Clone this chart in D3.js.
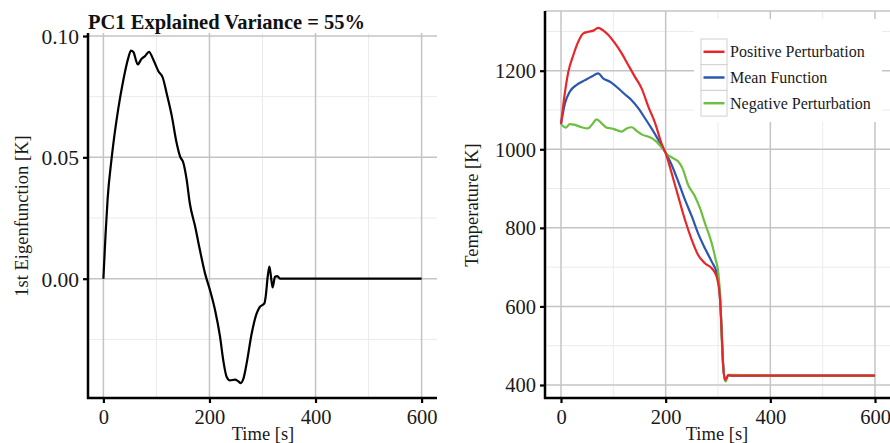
<!DOCTYPE html>
<html>
<head>
<script src="https://d3js.org/d3.v7.min.js"></script>
<style>
  body { margin: 0; background: #fff; }
  svg { display: block; font-family: "Liberation Serif", "DejaVu Serif", serif; }
</style>
</head>
<body>
<svg width="890" height="443"></svg>
<script>
// --- left panel: first eigenfunction (time [s], value [K])
const eigenTime = [0, 4, 8, 15.7, 28, 37.7, 47, 52, 56.5, 64.7, 72, 78.5, 86, 94, 103.7, 112, 119, 129, 138, 144.5, 151, 157, 163, 173, 182, 191.6, 201, 210.5, 220, 226, 232.5, 238.7, 248, 254.5, 259, 264, 270, 279.6, 289, 295, 303.5, 306, 309.8, 313, 316, 319, 323.6, 328, 333, 345.6, 400, 500, 600];
const eigenValue = [0, 0.018, 0.033, 0.050, 0.070, 0.082, 0.091, 0.094, 0.0934, 0.0883, 0.0906, 0.0917, 0.0935, 0.0903, 0.0855, 0.0828, 0.0766, 0.067, 0.056, 0.0504, 0.0476, 0.0408, 0.031, 0.0215, 0.0118, 0.0022, -0.0047, -0.0129, -0.024, -0.0336, -0.0405, -0.0419, -0.0416, -0.0423, -0.043, -0.0412, -0.035, -0.0226, -0.0143, -0.0116, -0.0102, -0.0074, 0.0008, 0.005, 0.0008, -0.0036, 0.0008, 0.0011, 0, 0, 0, 0, 0];

// --- right panel: temperature curves (time [s], temperature [K])
const posTime = [0, 6.4, 14, 23.6, 33, 42.7, 52, 61.8, 71, 81, 90.5, 103, 116, 128.7, 141, 154, 167, 180, 192, 200, 211.5, 224, 237, 250, 262, 275, 288, 294, 299, 304, 307, 310, 313, 316, 320, 325, 400, 500, 600];
const posTemp = [1064, 1134, 1197, 1240, 1274, 1295, 1299, 1302, 1309, 1302, 1291, 1270, 1244, 1214, 1185, 1155, 1108, 1066, 1015, 990, 939, 880, 820, 769, 731, 710, 697, 686, 668, 617, 532, 447, 413, 417, 426, 424, 424, 424, 424];

const meanTime = [0, 7.6, 17, 30, 46, 58.6, 71, 81, 93.6, 109.6, 122, 135, 148, 160.5, 173, 186, 198.7, 211.5, 224, 237, 250, 262, 275, 288, 297.5, 302, 305.8, 310, 313, 316, 320, 325, 400, 500, 600];
const meanTemp = [1064, 1117, 1147, 1164, 1176, 1185, 1193, 1180, 1172, 1155, 1140, 1125, 1104, 1079, 1053, 1024, 994, 960, 918, 871, 829, 786, 748, 714, 685, 651, 575, 447, 413, 418, 425, 424, 424, 424, 424];

const negTime = [0, 4.5, 9, 17, 26.8, 39.5, 51, 58.6, 68, 77.7, 87, 97, 106, 116, 125.5, 135, 144.6, 154, 167, 180, 192, 202, 214.7, 224, 232, 243, 256, 265.6, 275, 288, 295.6, 300.7, 304.5, 308, 312, 314.7, 318.5, 323, 400, 500, 600];
const negTemp = [1064, 1058, 1055, 1064, 1062, 1056, 1053, 1062, 1076, 1066, 1055, 1053, 1049, 1045, 1053, 1056, 1047, 1038, 1032, 1022, 1005, 988, 977, 969, 952, 909, 880, 850, 812, 761, 719, 685, 617, 490, 422, 409, 422, 426, 424, 424, 424];

const seriesNames = ["Positive Perturbation", "Mean Function", "Negative Perturbation"];
const seriesColors = ["#e8262a", "#2b57b0", "#6cbf3f"];

const xTicks = [0, 200, 400, 600];
const xMinor = [100, 300, 500];
const eigenTicks = [0.00, 0.05, 0.10];
const eigenMinor = [-0.025, 0.025, 0.075];
const tempTicks = [400, 600, 800, 1000, 1200];
const tempMinor = [500, 700, 900, 1100, 1300];

const svg = d3.select("svg");

function panel(opt) {
  const g = svg.append("g");
  const x = opt.x, y = opt.y;
  const [x0, x1] = opt.box.x, [y0, y1] = opt.box.y;

  // minor grid
  g.selectAll(".mx").data(opt.xMinor).join("line")
    .attr("x1", d => x(d)).attr("x2", d => x(d)).attr("y1", y0).attr("y2", y1)
    .attr("stroke", "#ebebeb").attr("stroke-width", 1);
  g.selectAll(".my").data(opt.yMinor).join("line")
    .attr("x1", x0).attr("x2", x1).attr("y1", d => y(d)).attr("y2", d => y(d))
    .attr("stroke", "#ebebeb").attr("stroke-width", 1);
  // major grid
  g.selectAll(".gx").data(opt.xTicks).join("line")
    .attr("x1", d => x(d)).attr("x2", d => x(d)).attr("y1", y0).attr("y2", y1)
    .attr("stroke", "#c4c4c4").attr("stroke-width", 1.5);
  g.selectAll(".gy").data(opt.yTicks).join("line")
    .attr("x1", x0).attr("x2", x1).attr("y1", d => y(d)).attr("y2", d => y(d))
    .attr("stroke", "#c4c4c4").attr("stroke-width", 1.5);

  return g;
}

function axes(g, opt) {
  const [x0, x1] = opt.box.x, [y0, y1] = opt.box.y;
  const ax = g.append("g").attr("transform", `translate(0,${y1})`)
    .call(d3.axisBottom(opt.x).tickValues(opt.xTicks).tickSize(5).tickPadding(6).tickFormat(d3.format("d")));
  const ay = g.append("g").attr("transform", `translate(${x0},0)`)
    .call(d3.axisLeft(opt.y).tickValues(opt.yTicks).tickSize(5).tickPadding(4).tickFormat(opt.yFormat));
  [ax, ay].forEach(a => {
    a.select(".domain").remove();
    a.selectAll(".tick line").attr("stroke", "#000").attr("stroke-width", 2.2);
    a.selectAll(".tick text").attr("fill", "#1a1a1a")
      .style("font-family", "Liberation Serif").style("font-size", "20.5px");
  });
  ay.selectAll(".tick text").attr("dy", "0.34em").style("font-size", opt.yFont + "px");
  // axis lines
  g.append("line").attr("x1", x0).attr("x2", x0).attr("y1", y0).attr("y2", y1 + 1)
    .attr("stroke", "#000").attr("stroke-width", 2.5);
  g.append("line").attr("x1", x0 - 1).attr("x2", x1).attr("y1", y1).attr("y2", y1)
    .attr("stroke", "#000").attr("stroke-width", 2.5);
}

// ---------------- left panel
const left = {
  box: { x: [88, 437], y: [33, 398] },
  x: d3.scaleLinear().domain([0, 600]).range([103.4, 421.6]),
  y: d3.scaleLinear().domain([0, 0.1]).range([278.7, 36]),
  xTicks, xMinor, yTicks: eigenTicks, yMinor: eigenMinor,
  yFormat: d3.format(".2f"), yFont: 21.5
};
const gL = panel(left);

const eigenData = eigenTime.map((t, i) => [t, eigenValue[i]]);
gL.append("path")
  .datum(eigenData)
  .attr("fill", "none").attr("stroke", "#000").attr("stroke-width", 2.2)
  .attr("stroke-linejoin", "round")
  .attr("d", d3.line().x(d => left.x(d[0])).y(d => left.y(d[1])).curve(d3.curveMonotoneX));

axes(gL, left);

gL.append("text").attr("x", 88).attr("y", 29)
  .attr("font-weight", "bold").attr("font-size", 20.5).attr("fill", "#111")
  .text("PC1 Explained Variance = 55%");
gL.append("text").attr("transform", "translate(22,216) rotate(-90)")
  .attr("text-anchor", "middle").attr("dominant-baseline", "central")
  .attr("font-size", 18.5).attr("fill", "#1a1a1a")
  .text("1st Eigenfunction [K]");
gL.append("text").attr("x", 263).attr("y", 440)
  .attr("text-anchor", "middle").attr("font-size", 18.5).attr("fill", "#1a1a1a")
  .text("Time [s]");

// ---------------- right panel
const right = {
  box: { x: [545, 890], y: [11, 398] },
  x: d3.scaleLinear().domain([0, 600]).range([561, 875]),
  y: d3.scaleLinear().domain([400, 1200]).range([385, 70.7]),
  xTicks, xMinor, yTicks: tempTicks, yMinor: tempMinor,
  yFormat: d3.format("d"), yFont: 20.5
};
const gR = panel(right);
gR.append("line").attr("x1", 545).attr("x2", 890).attr("y1", 11).attr("y2", 11)
  .attr("stroke", "#c4c4c4").attr("stroke-width", 1.5);

// legend background hides the grid behind it
gR.append("rect").attr("x", 694).attr("y", 19).attr("width", 188).attr("height", 103).attr("fill", "#fff");

const lineR = d3.line().x(d => right.x(d[0])).y(d => right.y(d[1])).curve(d3.curveMonotoneX);
const curves = [
  { name: seriesNames[1], color: seriesColors[1], t: meanTime, v: meanTemp },
  { name: seriesNames[2], color: seriesColors[2], t: negTime, v: negTemp },
  { name: seriesNames[0], color: seriesColors[0], t: posTime, v: posTemp }
];
gR.selectAll(".curve").data(curves).join("path")
  .attr("fill", "none").attr("stroke", d => d.color).attr("stroke-width", 2.2)
  .attr("stroke-linejoin", "round")
  .attr("d", d => lineR(d.t.map((t, i) => [t, d.v[i]])));

axes(gR, right);

gR.append("text").attr("transform", "translate(472,205) rotate(-90)")
  .attr("text-anchor", "middle").attr("dominant-baseline", "central")
  .attr("font-size", 18.5).attr("fill", "#1a1a1a")
  .text("Temperature [K]");
gR.append("text").attr("x", 717).attr("y", 440)
  .attr("text-anchor", "middle").attr("font-size", 18.5).attr("fill", "#1a1a1a")
  .text("Time [s]");

// legend
const legend = gR.append("g").attr("transform", "translate(701,39)");
const rows = legend.selectAll("g").data(seriesNames).join("g")
  .attr("transform", (d, i) => `translate(0,${i * 25.7})`);
rows.append("rect").attr("width", 26).attr("height", 25.7)
  .attr("fill", "#fff").attr("stroke", "#d0d0d0").attr("stroke-width", 1);
rows.append("line").attr("x1", 2.5).attr("x2", 23.5).attr("y1", 12.8).attr("y2", 12.8)
  .attr("stroke", (d, i) => seriesColors[i]).attr("stroke-width", 2.5);
rows.append("text").attr("x", 29).attr("y", 12.8).attr("dominant-baseline", "central")
  .attr("font-size", 16).attr("fill", "#1a1a1a")
  .text(d => d);
</script>
</body>
</html>
